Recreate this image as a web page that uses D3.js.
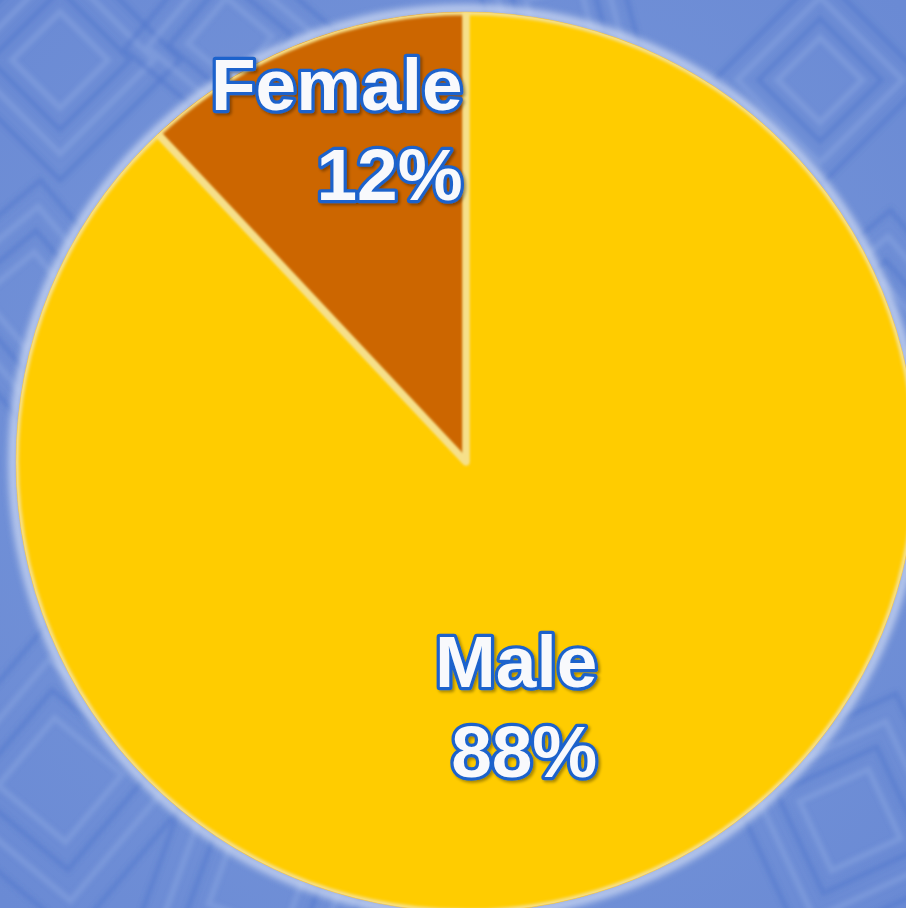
<!DOCTYPE html>
<html><head><meta charset="utf-8">
<script src="https://cdn.jsdelivr.net/npm/d3@7"></script>
<style>html,body{margin:0;padding:0;overflow:hidden;background:#7190d7;}</style>
</head><body>
<script>
const categories = ["Male", "Female"];
const values = [88, 12];
const labels = ["88%", "12%"];
const colors = ["#FFCC00", "#CC6600"];

const W = 906, H = 908, cx = 466, cy = 462, R = 450;
const svg = d3.select("body").append("svg").attr("width", W).attr("height", H);
const defs = svg.append("defs");

// background
const bg = defs.append("radialGradient").attr("id","bg").attr("cx","50%").attr("cy","50%").attr("r","70%");
bg.append("stop").attr("offset","0%").attr("stop-color","#7c9adc");
bg.append("stop").attr("offset","100%").attr("stop-color","#6a8ad4");
svg.append("rect").attr("width",W).attr("height",H).attr("fill","url(#bg)");

const blurBg = defs.append("filter").attr("id","bgblur").attr("x","-10%").attr("y","-10%").attr("width","120%").attr("height","120%");
blurBg.append("feGaussianBlur").attr("stdDeviation",2.2);
// coffer-like decorative pattern (nested squares, rotated)
const deco = svg.append("g").attr("filter","url(#bgblur)");
const coffers = [
  {x:60,y:60,s:170,a:45},{x:230,y:40,s:150,a:40},{x:30,y:300,s:170,a:50},
  {x:60,y:780,s:220,a:40},{x:260,y:880,s:200,a:20},{x:850,y:820,s:190,a:-25},
  {x:880,y:330,s:170,a:-40},{x:820,y:80,s:150,a:-45},{x:560,y:20,s:140,a:-15}
];
coffers.forEach(c => {
  const g = deco.append("g").attr("transform",`translate(${c.x},${c.y}) rotate(${c.a})`);
  [1,0.78,0.58,0.4].forEach((k,i)=>{
    g.append("rect").attr("x",-c.s*k/2).attr("y",-c.s*k/2).attr("width",c.s*k).attr("height",c.s*k)
      .attr("fill","none").attr("stroke", i%2? "#8aa6e2":"#4f76cc").attr("stroke-width", i%2?6:5).attr("opacity",0.5);
  });
});

// halo around pie
const halo = defs.append("filter").attr("id","halo").attr("x","-20%").attr("y","-20%").attr("width","140%").attr("height","140%");
halo.append("feGaussianBlur").attr("stdDeviation",3.5);
svg.append("circle").attr("cx",cx).attr("cy",cy).attr("r",R+3)
  .attr("fill","none").attr("stroke","#d0dcf4").attr("stroke-width",9).attr("opacity",0.8).attr("filter","url(#halo)");

const pie = d3.pie().sort(null).value(d=>d)(values);
const arc = d3.arc().innerRadius(0).outerRadius(R);
const g = svg.append("g").attr("transform",`translate(${cx},${cy})`);
const clip = defs.append("clipPath").attr("id","pieclip");
clip.append("circle").attr("cx",0).attr("cy",0).attr("r",R);

g.selectAll("path.slice").data(pie).join("path").attr("class","slice")
  .attr("d",arc).attr("fill",(d,i)=>colors[i]);

// soft light separators between slices
const sep = defs.append("filter").attr("id","sep").attr("x","-20%").attr("y","-20%").attr("width","140%").attr("height","140%");
sep.append("feGaussianBlur").attr("stdDeviation",1.8);
g.append("g").attr("clip-path","url(#pieclip)").selectAll("path.sep").data(pie).join("path").attr("class","sep")
  .attr("d",arc).attr("fill","none").attr("stroke","#f6e08a").attr("stroke-width",6)
  .attr("stroke-linejoin","round").attr("filter","url(#sep)");
g.append("circle").attr("r",R).attr("fill","none").attr("stroke","#f7c24a").attr("stroke-width",0.8).attr("opacity",0.6);

// labels
const shadow = defs.append("filter").attr("id","tshadow").attr("x","-10%").attr("y","-10%").attr("width","130%").attr("height","130%");
shadow.append("feDropShadow").attr("dx",2).attr("dy",2).attr("stdDeviation",1.5).attr("flood-color","#000").attr("flood-opacity",0.35);

const labelPos = [
  {rk:0.55, dx:-41, dy:40},   // Male
  {rk:0.78, dx:0, dy:20}      // Female
];
const fs = 73, lh = 90;
pie.forEach((d,i)=>{
  const c = d3.arc().innerRadius(R*labelPos[i].rk).outerRadius(R*labelPos[i].rk).centroid(d);
  const bx = c[0] + labelPos[i].dx, by = c[1] + labelPos[i].dy;
  const t = g.append("g").attr("filter","url(#tshadow)");
  const lines = [categories[i], labels[i]];
  const txt = t.selectAll("text").data(lines).join("text")
    .attr("font-family","'Liberation Sans', Arial, sans-serif").attr("font-weight","bold")
    .attr("font-size",fs).attr("fill","#f8f9fc").attr("stroke","#1a62cc").attr("stroke-width",6.5)
    .attr("stroke-linejoin","round").attr("paint-order","stroke").attr("text-anchor","end")
    .text(s=>s);
  const wmax = d3.max(txt.nodes(), n=>n.getComputedTextLength());
  const top = by - lh/2 - 0.36*fs + 26;
  txt.attr("x", bx + wmax/2).attr("y",(s,j)=> top + j*lh);
});
</script>
</body></html>
